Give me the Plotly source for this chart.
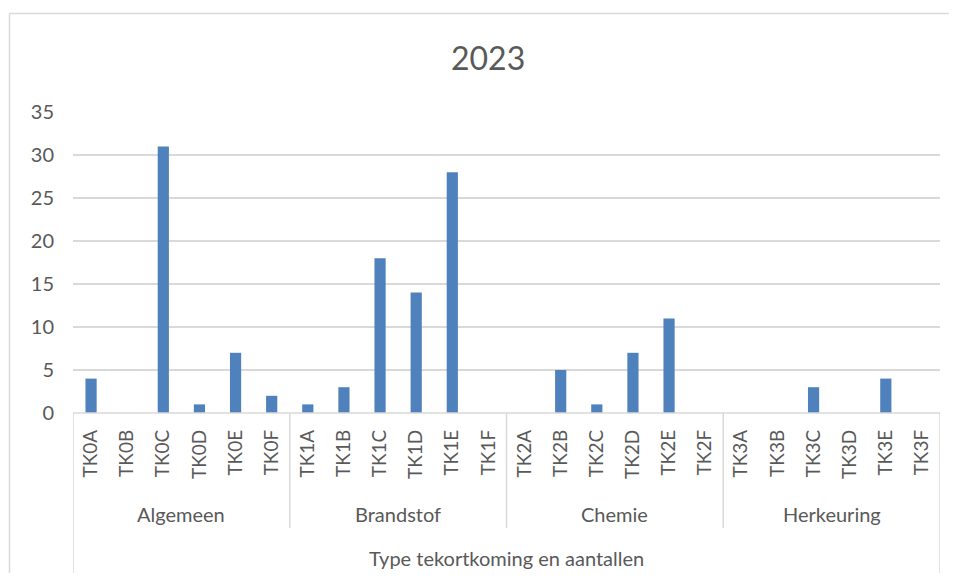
import plotly.graph_objects as go

title_text = "2023"
groups = ["Algemeen", "Brandstof", "Chemie", "Herkeuring"]
categories = ["TK0A", "TK0B", "TK0C", "TK0D", "TK0E", "TK0F",
              "TK1A", "TK1B", "TK1C", "TK1D", "TK1E", "TK1F",
              "TK2A", "TK2B", "TK2C", "TK2D", "TK2E", "TK2F",
              "TK3A", "TK3B", "TK3C", "TK3D", "TK3E", "TK3F"]
values = [4, 0, 31, 1, 7, 2,
          1, 3, 18, 14, 28, 0,
          0, 5, 1, 7, 11, 0,
          0, 0, 3, 0, 4, 0]
y_ticks = [0, 5, 10, 15, 20, 25, 30, 35]
axis_title = "Type tekortkoming en aantallen"

FONT = "Lato"
GREY = "#595959"
LINE = "#d9d9d9"
BAR = "#4f81bd"

OFF = 8  # page body margin of the browser
W, H = 957 - 2 * OFF, 581 - 2 * OFF
L, R, T, B = 73 - OFF, 940 - OFF, 112 - OFF, 413 - OFF
ph = B - T
pw = R - L

def py(pix):
    return (B - (pix - OFF)) / ph

def px(pix):
    return ((pix - OFF) - L) / pw

fig = go.Figure()
fig.add_trace(go.Bar(x=categories, y=values, marker_color=BAR, width=0.31,
                     marker_line_width=0, hoverinfo="x+y"))

per_group = len(categories) // len(groups)
shapes = []
annotations = []
# outer frame of chart area (top and left edges; others lie outside the view)
shapes.append(dict(type="line", xref="paper", yref="paper",
                   x0=px(9.5), x1=px(957), y0=py(13.5), y1=py(13.5),
                   line=dict(color=LINE, width=1.5), layer="below"))
shapes.append(dict(type="line", xref="paper", yref="paper",
                   x0=px(9.5), x1=px(9.5), y0=py(13.5), y1=py(581),
                   line=dict(color=LINE, width=1.5), layer="below"))
# x axis baseline
shapes.append(dict(type="line", xref="paper", yref="paper", x0=0, x1=1, y0=0, y1=0,
                   line=dict(color=LINE, width=1.5)))
# outer vertical lines
for xv in [-0.5, len(categories) - 0.5]:
    shapes.append(dict(type="line", xref="x", yref="paper", x0=xv, x1=xv,
                       y0=0, y1=py(576), line=dict(color=LINE, width=1.5)))
# group separators and labels
for gi, g in enumerate(groups):
    mid = gi * per_group + (per_group - 1) / 2
    annotations.append(dict(text=g, xref="x", yref="paper", x=mid, y=py(514),
                            showarrow=False, font=dict(family=FONT, size=20, color=GREY),
                            xanchor="center", yanchor="middle"))
    if gi > 0:
        xv = gi * per_group - 0.5
        shapes.append(dict(type="line", xref="x", yref="paper", x0=xv, x1=xv,
                           y0=0, y1=py(528), line=dict(color=LINE, width=1.5)))

annotations.append(dict(text=axis_title, xref="paper", yref="paper", x=0.5, y=py(558),
                        showarrow=False, font=dict(family=FONT, size=20, color=GREY),
                        xanchor="center", yanchor="middle"))
annotations.append(dict(text=title_text, xref="paper", yref="paper", x=px(488), y=py(57),
                        showarrow=False, font=dict(family=FONT, size=32, color=GREY),
                        xanchor="center", yanchor="middle"))

fig.update_layout(
    width=W, height=H,
    margin=dict(l=L, r=W - R, t=T, b=H - B),
    paper_bgcolor="white", plot_bgcolor="white",
    showlegend=False,
    bargap=0.69,
    shapes=shapes,
    annotations=annotations,
    font=dict(family=FONT, color=GREY),
    xaxis=dict(type="category", categoryorder="array", categoryarray=categories,
               range=[-0.5, len(categories) - 0.5], tickangle=-90,
               tickfont=dict(family=FONT, size=19, color=GREY),
               showgrid=False, showline=False, zeroline=False, ticks="",
               ticklabelstandoff=12, fixedrange=True),
    yaxis=dict(range=[0, 35], tickvals=y_ticks, ticktext=[str(v) for v in y_ticks],
               tickfont=dict(family=FONT, size=20, color=GREY),
               showgrid=True, gridcolor=LINE, gridwidth=1.5,
               zeroline=False, showline=False, ticks="",
               ticklabelstandoff=18, fixedrange=True),
)

fig.write_html("out.html")
